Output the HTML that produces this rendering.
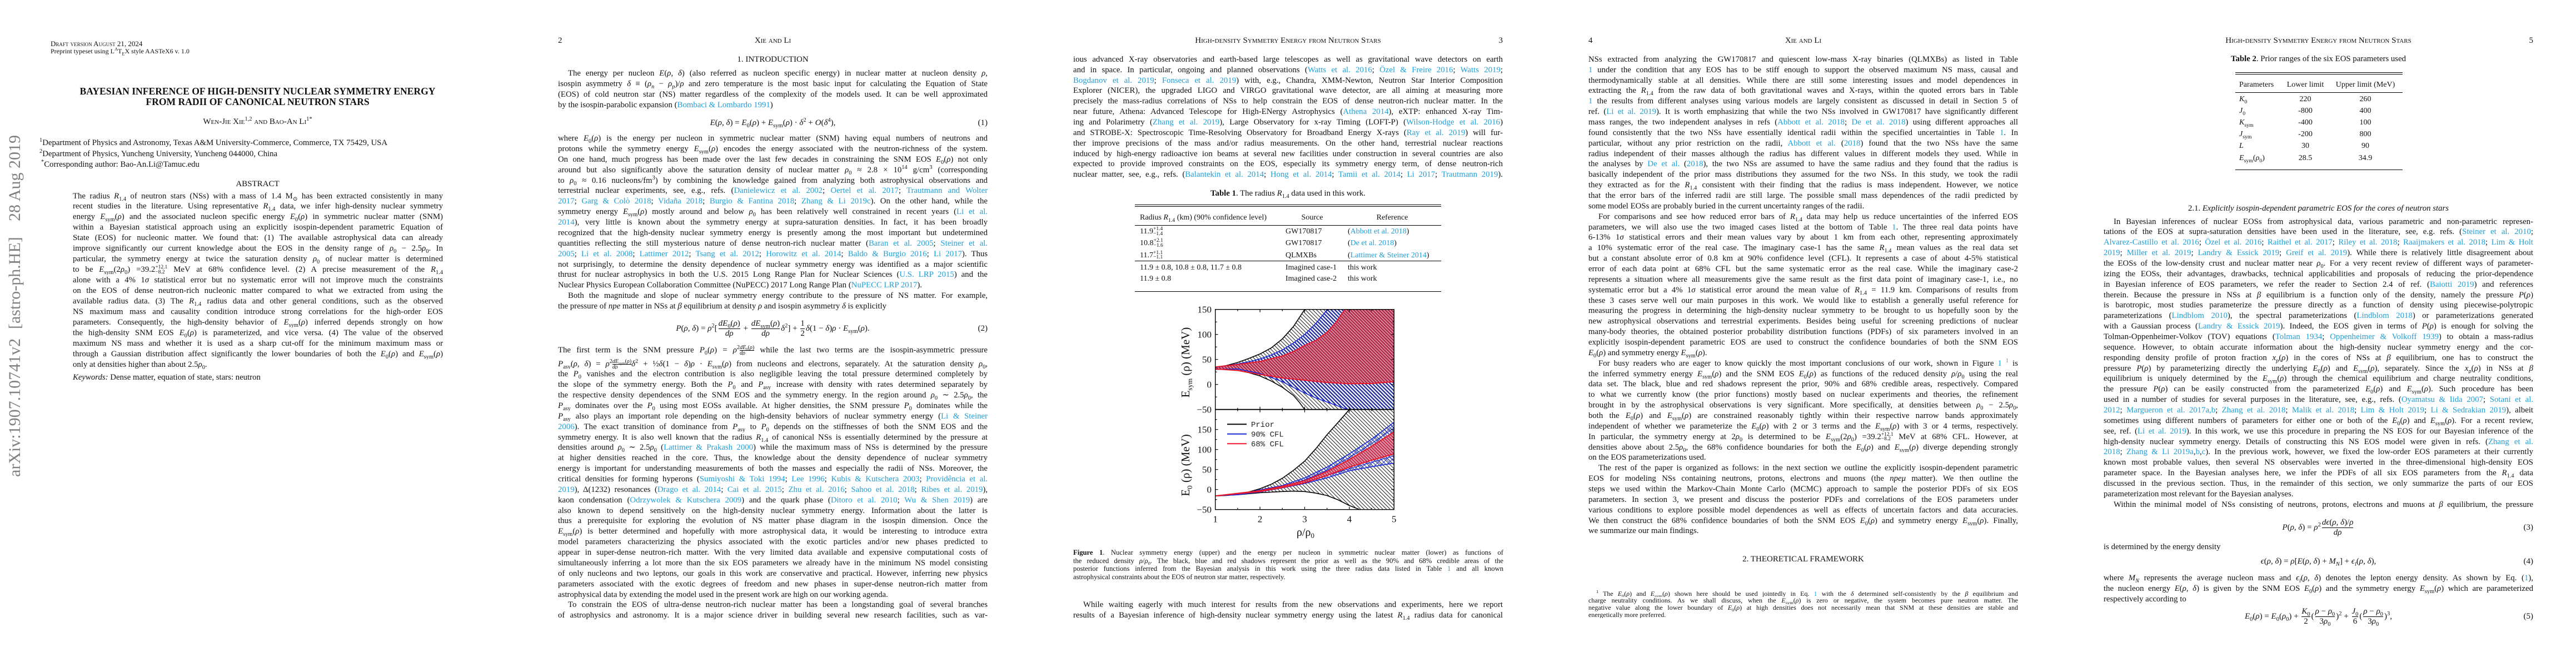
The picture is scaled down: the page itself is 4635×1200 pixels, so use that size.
<!DOCTYPE html>
<html><head><meta charset="utf-8">
<style>
*{margin:0;padding:0;box-sizing:border-box}
body{width:4635px;height:1200px;position:relative;overflow:hidden;background:#fff;font-family:"Liberation Serif","DejaVu Serif",serif;color:#111}
.a{position:absolute;white-space:nowrap}
.c{position:absolute;width:773px;font-size:14.8px}
.c>div{height:18.86px;line-height:18.86px;text-align:justify;text-align-last:justify;overflow:hidden}
.c>div.e{text-align-last:left}
.c>div.p{text-indent:18px}
.ab>div{height:18.94px;line-height:18.94px}
.cp{font-size:12.6px}
.cp>div{height:14.65px;line-height:14.65px}
.fn{font-size:12px}
.fn>div{height:12.7px;line-height:12.7px}
sub,sup{font-size:70%;line-height:0}
.k{color:#1f9fd8}
.sc{font-variant:small-caps}
.hd{position:absolute;font-size:15px;line-height:18px;top:64px;white-space:nowrap}
.eq{position:absolute;width:773px;height:44px;line-height:44px;text-align:center;font-size:15px;white-space:nowrap}
.eq .n{position:absolute;right:0;top:0}
.fr{display:inline-block;vertical-align:middle;text-align:center;line-height:17px;margin:0 2px}
.fr>span{display:block}
.fr>span:first-child{border-bottom:1px solid #000}
.sf{display:inline-block;vertical-align:middle;text-align:center;font-size:10px;line-height:9px}
.sf>span{display:block}
.sf>span:first-child{border-bottom:1px solid #000}
.ss{display:inline-block;vertical-align:middle;font-size:9.5px;line-height:8.5px;text-align:left}
.ss>span{display:block}
.rule{position:absolute;height:0;border-top:1.2px solid #000}
.t{position:absolute;font-size:14px;line-height:18px;white-space:nowrap}
.wm{position:absolute;transform-origin:0 0;transform:rotate(-90deg);font-size:30px;line-height:36px;color:#808080;white-space:nowrap}
</style></head><body>

<!-- arXiv watermark -->
<div class="wm" style="left:9px;top:858px">arXiv:1907.10741v2</div>
<div class="wm" style="left:9px;top:592px">[astro-ph.HE]</div>
<div class="wm" style="left:9px;top:398px">28 Aug 2019</div>

<!-- PAGE 1 -->
<div class="a sc" style="left:91px;top:71px;font-size:13px;line-height:16px">Draft version August 21, 2024</div>
<div class="a" style="left:91px;top:85px;font-size:12px;line-height:15px">Preprint typeset using L<sup>A</sup>T<sub>E</sub>X style AASTeX6 v. 1.0</div>
<div class="a" style="left:77px;width:773px;text-align:center;top:155px;font-size:17.6px;line-height:19px;font-weight:bold">BAYESIAN INFERENCE OF HIGH-DENSITY NUCLEAR SYMMETRY ENERGY<br>FROM RADII OF CANONICAL NEUTRON STARS</div>
<div class="a sc" style="left:77px;width:773px;text-align:center;top:210px;font-size:15px;line-height:19px">Wen-Jie Xie<sup>1,2</sup> and Bao-An Li<sup>1*</sup></div>
<div class="a" style="left:71px;top:248px;font-size:14.8px;line-height:19px"><sup>1</sup>Department of Physics and Astronomy, Texas A&amp;M University-Commerce, Commerce, TX 75429, USA</div>
<div class="a" style="left:71px;top:268px;font-size:14.8px;line-height:19px"><sup>2</sup>Department of Physics, Yuncheng University, Yuncheng 044000, China</div>
<div class="a" style="left:74px;top:287px;font-size:14.8px;line-height:19px"><sup>*</sup>Corresponding author: Bao-An.Li@Tamuc.edu</div>
<div class="a" style="left:77px;width:773px;text-align:center;top:322px;font-size:15px;line-height:19px">ABSTRACT</div>
<div class="c ab" style="left:131px;top:343.5px;width:666px">
<div>The radius <i>R</i><sub>1.4</sub> of neutron stars (NSs) with a mass of 1.4 M<sub>⊙</sub> has been extracted consistently in many</div>
<div>recent studies in the literature. Using representative <i>R</i><sub>1.4</sub> data, we infer high-density nuclear symmetry</div>
<div>energy <i>E</i><sub>sym</sub>(<i>ρ</i>) and the associated nucleon specific energy <i>E</i><sub>0</sub>(<i>ρ</i>) in symmetric nuclear matter (SNM)</div>
<div>within a Bayesian statistical approach using an explicitly isospin-dependent parametric Equation of</div>
<div>State (EOS) for nucleonic matter. We found that: (1) The available astrophysical data can already</div>
<div>improve significantly our current knowledge about the EOS in the density range of <i>ρ</i><sub>0</sub> − 2.5<i>ρ</i><sub>0</sub>. In</div>
<div>particular, the symmetry energy at twice the saturation density <i>ρ</i><sub>0</sub> of nuclear matter is determined</div>
<div>to be <i>E</i><sub>sym</sub>(2<i>ρ</i><sub>0</sub>) =39.2<span class="ss"><span>+12.1</span><span>−8.2</span></span> MeV at 68% confidence level. (2) A precise measurement of the <i>R</i><sub>1.4</sub></div>
<div>alone with a 4% 1<i>σ</i> statistical error but no systematic error will not improve much the constraints</div>
<div>on the EOS of dense neutron-rich nucleonic matter compared to what we extracted from using the</div>
<div>available radius data. (3) The <i>R</i><sub>1.4</sub> radius data and other general conditions, such as the observed</div>
<div>NS maximum mass and causality condition introduce strong correlations for the high-order EOS</div>
<div>parameters. Consequently, the high-density behavior of <i>E</i><sub>sym</sub>(<i>ρ</i>) inferred depends strongly on how</div>
<div>the high-density SNM EOS <i>E</i><sub>0</sub>(<i>ρ</i>) is parameterized, and vice versa. (4) The value of the observed</div>
<div>maximum NS mass and whether it is used as a sharp cut-off for the minimum maximum mass or</div>
<div>through a Gaussian distribution affect significantly the lower boundaries of both the <i>E</i><sub>0</sub>(<i>ρ</i>) and <i>E</i><sub>sym</sub>(<i>ρ</i>)</div>
<div class="e">only at densities higher than about 2.5<i>ρ</i><sub>0</sub>.</div>
</div>
<div class="a" style="left:131px;top:670px;font-size:14.8px;line-height:19px"><i>Keywords:</i> Dense matter, equation of state, stars: neutron</div>

<!-- PAGE 2 -->
<div class="hd" style="left:1004px">2</div>
<div class="hd sc" style="left:1004px;width:773px;text-align:center">Xie and Li</div>
<div class="a" style="left:1004px;width:773px;text-align:center;top:98px;font-size:15px;line-height:19px">1. INTRODUCTION</div>
<div class="c" style="left:1004px;top:123.2px">
<div class="p">The energy per nucleon <i>E</i>(<i>ρ</i>, <i>δ</i>) (also referred as nucleon specific energy) in nuclear matter at nucleon density <i>ρ</i>,</div>
<div>isospin asymmetry <i>δ</i> ≡ (<i>ρ<sub>n</sub></i> − <i>ρ<sub>p</sub></i>)/<i>ρ</i> and zero temperature is the most basic input for calculating the Equation of State</div>
<div>(EOS) of cold neutron star (NS) matter regardless of the complexity of the models used. It can be well approximated</div>
<div class="e">by the isospin-parabolic expansion (<span class="k">Bombaci &amp; Lombardo 1991</span>)</div>
</div>
<div class="eq" style="left:1004px;top:199px"><i>E</i>(<i>ρ</i>, <i>δ</i>) = <i>E</i><sub>0</sub>(<i>ρ</i>) + <i>E</i><sub>sym</sub>(<i>ρ</i>) · <i>δ</i><sup>2</sup> + <i>O</i>(<i>δ</i><sup>4</sup>),<span class="n">(1)</span></div>
<div class="c" style="left:1004px;top:240.2px">
<div>where <i>E</i><sub>0</sub>(<i>ρ</i>) is the energy per nucleon in symmetric nuclear matter (SNM) having equal numbers of neutrons and</div>
<div>protons while the symmetry energy <i>E</i><sub>sym</sub>(<i>ρ</i>) encodes the energy associated with the neutron-richness of the system.</div>
<div>On one hand, much progress has been made over the last few decades in constraining the SNM EOS <i>E</i><sub>0</sub>(<i>ρ</i>) not only</div>
<div>around but also significantly above the saturation density of nuclear matter <i>ρ</i><sub>0</sub> ≈ 2.8 × 10<sup>14</sup> g/cm<sup>3</sup> (corresponding</div>
<div>to <i>ρ</i><sub>0</sub> ≈ 0.16 nucleons/fm<sup>3</sup>) by combining the knowledge gained from analyzing both astrophysical observations and</div>
<div>terrestrial nuclear experiments, see, e.g., refs. (<span class="k">Danielewicz et al. 2002</span>; <span class="k">Oertel et al. 2017</span>; <span class="k">Trautmann and Wolter</span></div>
<div><span class="k">2017</span>; <span class="k">Garg &amp; Colò 2018</span>; <span class="k">Vidaña 2018</span>; <span class="k">Burgio &amp; Fantina 2018</span>; <span class="k">Zhang &amp; Li 2019c</span>). On the other hand, while the</div>
<div>symmetry energy <i>E</i><sub>sym</sub>(<i>ρ</i>) mostly around and below <i>ρ</i><sub>0</sub> has been relatively well constrained in recent years (<span class="k">Li et al.</span></div>
<div><span class="k">2014</span>), very little is known about the symmetry energy at supra-saturation densities. In fact, it has been broadly</div>
<div>recognized that the high-density nuclear symmetry energy is presently among the most important but undetermined</div>
<div>quantities reflecting the still mysterious nature of dense neutron-rich nuclear matter (<span class="k">Baran et al. 2005</span>; <span class="k">Steiner et al.</span></div>
<div><span class="k">2005</span>; <span class="k">Li et al. 2008</span>; <span class="k">Lattimer 2012</span>; <span class="k">Tsang et al. 2012</span>; <span class="k">Horowitz et al. 2014</span>; <span class="k">Baldo &amp; Burgio 2016</span>; <span class="k">Li 2017</span>). Thus</div>
<div>not surprisingly, to determine the density dependence of nuclear symmetry energy was identified as a major scientific</div>
<div>thrust for nuclear astrophysics in both the U.S. 2015 Long Range Plan for Nuclear Sciences (<span class="k">U.S. LRP 2015</span>) and the</div>
<div class="e">Nuclear Physics European Collaboration Committee (NuPECC) 2017 Long Range Plan (<span class="k">NuPECC LRP 2017</span>).</div>
<div class="p">Both the magnitude and slope of nuclear symmetry energy contribute to the pressure of NS matter. For example,</div>
<div class="e">the pressure of <i>npe</i> matter in NSs at <i>β</i> equilibrium at density <i>ρ</i> and isospin asymmetry <i>δ</i> is explicitly</div>
</div>
<div class="eq" style="left:1004px;top:568.8px"><i>P</i>(<i>ρ</i>, <i>δ</i>) = <i>ρ</i><sup>2</sup>[<span class="fr"><span><i>dE</i><sub>0</sub>(<i>ρ</i>)</span><span><i>dρ</i></span></span> + <span class="fr"><span><i>dE</i><sub>sym</sub>(<i>ρ</i>)</span><span><i>dρ</i></span></span><i>δ</i><sup>2</sup>] + <span class="fr"><span>1</span><span>2</span></span><i>δ</i>(1 − <i>δ</i>)<i>ρ</i> · <i>E</i><sub>sym</sub>(<i>ρ</i>).<span class="n">(2)</span></div>
<div class="c" style="left:1004px;top:620.6px">
<div>The first term is the SNM pressure <i>P</i><sub>0</sub>(<i>ρ</i>) = <i>ρ</i><sup>2</sup><span class="sf"><span><i>dE</i><sub>0</sub>(<i>ρ</i>)</span><span><i>dρ</i></span></span> while the last two terms are the isospin-asymmetric pressure</div>
</div>
<div class="c" style="left:1004px;top:645.6px">
<div><i>P</i><sub>asy</sub>(<i>ρ</i>, <i>δ</i>) = <i>ρ</i><sup>2</sup><span class="sf"><span><i>dE</i><sub>sym</sub>(<i>ρ</i>)</span><span><i>dρ</i></span></span><i>δ</i><sup>2</sup> + ½<i>δ</i>(1 − <i>δ</i>)<i>ρ</i> · <i>E</i><sub>sym</sub>(<i>ρ</i>) from nucleons and electrons, separately. At the saturation density <i>ρ</i><sub>0</sub>,</div>
<div>the <i>P</i><sub>0</sub> vanishes and the electron contribution is also negligible leaving the total pressure determined completely by</div>
<div>the slope of the symmetry energy. Both the <i>P</i><sub>0</sub> and <i>P</i><sub>asy</sub> increase with density with rates determined separately by</div>
<div>the respective density dependences of the SNM EOS and the symmetry energy. In the region around <i>ρ</i><sub>0</sub> ∼ 2.5<i>ρ</i><sub>0</sub>, the</div>
<div><i>P</i><sub>asy</sub> dominates over the <i>P</i><sub>0</sub> using most EOSs available. At higher densities, the SNM pressure <i>P</i><sub>0</sub> dominates while the</div>
<div><i>P</i><sub>asy</sub> also plays an important role depending on the high-density behaviors of nuclear symmetry energy (<span class="k">Li &amp; Steiner</span></div>
<div><span class="k">2006</span>). The exact transition of dominance from <i>P</i><sub>asy</sub> to <i>P</i><sub>0</sub> depends on the stiffnesses of both the SNM EOS and the</div>
<div>symmetry energy. It is also well known that the radius <i>R</i><sub>1.4</sub> of canonical NSs is essentially determined by the pressure at</div>
<div>densities around <i>ρ</i><sub>0</sub> ∼ 2.5<i>ρ</i><sub>0</sub> (<span class="k">Lattimer &amp; Prakash 2000</span>) while the maximum mass of NSs is determined by the pressure</div>
<div>at higher densities reached in the core. Thus, the knowledge about the density dependence of nuclear symmetry</div>
<div>energy is important for understanding measurements of both the masses and especially the radii of NSs. Moreover, the</div>
<div>critical densities for forming hyperons (<span class="k">Sumiyoshi &amp; Toki 1994</span>; <span class="k">Lee 1996</span>; <span class="k">Kubis &amp; Kutschera 2003</span>; <span class="k">Providência et al.</span></div>
<div><span class="k">2019</span>), Δ(1232) resonances (<span class="k">Drago et al. 2014</span>; <span class="k">Cai et al. 2015</span>; <span class="k">Zhu et al. 2016</span>; <span class="k">Sahoo et al. 2018</span>; <span class="k">Ribes et al. 2019</span>),</div>
<div>kaon condensation (<span class="k">Odrzywolek &amp; Kutschera 2009</span>) and the quark phase (<span class="k">Ditoro et al. 2010</span>; <span class="k">Wu &amp; Shen 2019</span>) are</div>
<div>also known to depend sensitively on the high-density nuclear symmetry energy. Information about the latter is</div>
<div>thus a prerequisite for exploring the evolution of NS matter phase diagram in the isospin dimension. Once the</div>
<div><i>E</i><sub>sym</sub>(<i>ρ</i>) is better determined and hopefully with more astrophysical data, it would be interesting to introduce extra</div>
<div>model parameters characterizing the physics associated with the exotic particles and/or new phases predicted to</div>
<div>appear in super-dense neutron-rich matter. With the very limited data available and expensive computational costs of</div>
<div>simultaneously inferring a lot more than the six EOS parameters we already have in the minimum NS model consisting</div>
<div>of only nucleons and two leptons, our goals in this work are conservative and practical. However, inferring new physics</div>
<div>parameters associated with the exotic degrees of freedom and new phases in super-dense neutron-rich matter from</div>
<div class="e">astrophysical data by extending the model used in the present work are high on our working agenda.</div>
<div class="p">To constrain the EOS of ultra-dense neutron-rich nuclear matter has been a longstanding goal of several branches</div>
<div>of astrophysics and astronomy. It is a major science driver in building several new research facilities, such as var-</div>
</div>

<!-- PAGE 3 -->
<div class="hd sc" style="left:1931px;width:773px;text-align:center">High-density Symmetry Energy from Neutron Stars</div>
<div class="hd" style="left:1931px;width:773px;text-align:right">3</div>
<div class="c" style="left:1931px;top:97.8px">
<div>ious advanced X-ray observatories and earth-based large telescopes as well as gravitational wave detectors on earth</div>
<div>and in space. In particular, ongoing and planned observations (<span class="k">Watts et al. 2016</span>; <span class="k">Özel &amp; Freire 2016</span>; <span class="k">Watts 2019</span>;</div>
<div><span class="k">Bogdanov et al. 2019</span>; <span class="k">Fonseca et al. 2019</span>) with, e.g., Chandra, XMM-Newton, Neutron Star Interior Composition</div>
<div>Explorer (NICER), the upgraded LIGO and VIRGO gravitational wave detector, are all aiming at measuring more</div>
<div>precisely the mass-radius correlations of NSs to help constrain the EOS of dense neutron-rich nuclear matter. In the</div>
<div>near future, Athena: Advanced Telescope for High-ENergy Astrophysics (<span class="k">Athena 2014</span>), eXTP: enhanced X-ray Tim-</div>
<div>ing and Polarimetry (<span class="k">Zhang et al. 2019</span>), Large Observatory for x-ray Timing (LOFT-P) (<span class="k">Wilson-Hodge et al. 2016</span>)</div>
<div>and STROBE-X: Spectroscopic Time-Resolving Observatory for Broadband Energy X-rays (<span class="k">Ray et al. 2019</span>) will fur-</div>
<div>ther improve precisions of the mass and/or radius measurements. On the other hand, terrestrial nuclear reactions</div>
<div>induced by high-energy radioactive ion beams at several new facilities under construction in several countries are also</div>
<div>expected to provide improved constraints on the EOS, especially its symmetry energy term, of dense neutron-rich</div>
<div>nuclear matter, see, e.g., refs. (<span class="k">Balantekin et al. 2014</span>; <span class="k">Hong et al. 2014</span>; <span class="k">Tamii et al. 2014</span>; <span class="k">Li 2017</span>; <span class="k">Trautmann 2019</span>).</div>
</div>
<div class="a" style="left:1931px;width:773px;text-align:center;top:339px;font-size:14.8px;line-height:19px"><b>Table 1</b>. The radius <i>R</i><sub>1.4</sub> data used in this work.</div>
<div class="rule" style="left:2042px;width:551px;top:367.6px"></div>
<div class="rule" style="left:2042px;width:551px;top:370.8px"></div>
<div class="rule" style="left:2042px;width:551px;top:404.5px"></div>
<div class="rule" style="left:2042px;width:551px;top:468.9px"></div>
<div class="rule" style="left:2042px;width:551px;top:523.9px"></div>
<div class="t" style="left:2051px;top:382.5px">Radius <i>R</i><sub>1.4</sub> (km) (90% confidence level)</div>
<div class="t" style="left:2311px;width:100px;text-align:center;top:382.5px">Source</div>
<div class="t" style="left:2445px;width:120px;text-align:center;top:382.5px">Reference</div>
<div class="t" style="left:2051px;top:408px">11.9<span class="ss"><span>+1.4</span><span>−1.4</span></span></div>
<div class="t" style="left:2313px;top:408px">GW170817</div>
<div class="t" style="left:2425px;top:408px">(<span class="k">Abbott et al. 2018</span>)</div>
<div class="t" style="left:2051px;top:429px">10.8<span class="ss"><span>+2.1</span><span>−1.6</span></span></div>
<div class="t" style="left:2313px;top:429px">GW170817</div>
<div class="t" style="left:2425px;top:429px">(<span class="k">De et al. 2018</span>)</div>
<div class="t" style="left:2051px;top:450.5px">11.7<span class="ss"><span>+1.1</span><span>−1.1</span></span></div>
<div class="t" style="left:2313px;top:450.5px">QLMXBs</div>
<div class="t" style="left:2425px;top:450.5px">(<span class="k">Lattimer &amp; Steiner 2014</span>)</div>
<div class="t" style="left:2051px;top:472.5px">11.9 ± 0.8, 10.8 ± 0.8, 11.7 ± 0.8</div>
<div class="t" style="left:2313px;top:472.5px">Imagined case-1</div>
<div class="t" style="left:2425px;top:472.5px">this work</div>
<div class="t" style="left:2051px;top:493.4px">11.9 ± 0.8</div>
<div class="t" style="left:2313px;top:493.4px">Imagined case-2</div>
<div class="t" style="left:2425px;top:493.4px">this work</div>

<svg class="a" style="left:2090px;top:540px" width="440" height="430" viewBox="2090 540 440 430">
<defs>
<clipPath id="cu"><rect x="2186.7" y="556.7" width="321.6" height="180"/></clipPath>
<clipPath id="cl"><rect x="2186.7" y="736.7" width="321.6" height="180"/></clipPath>
<pattern id="hk" patternUnits="userSpaceOnUse" width="4.7" height="4.7" patternTransform="rotate(45)"><line x1="0" y1="2.35" x2="4.7" y2="2.35" stroke="#000" stroke-width="0.9"/></pattern>
<pattern id="hb" patternUnits="userSpaceOnUse" width="4.6" height="4.6" patternTransform="rotate(45)"><rect width="4.6" height="4.6" fill="#fff"/><line x1="0" y1="2.3" x2="4.6" y2="2.3" stroke="#1c2896" stroke-width="2.3"/></pattern>
<pattern id="hr" patternUnits="userSpaceOnUse" width="4" height="4" patternTransform="rotate(45)"><rect width="4" height="4" fill="#b2304f"/><line x1="0" y1="2" x2="4" y2="2" stroke="#f2c6d0" stroke-width="1"/></pattern>
<pattern id="xb" patternUnits="userSpaceOnUse" width="7" height="7" patternTransform="rotate(45)"><line x1="0" y1="3.5" x2="7" y2="3.5" stroke="#2233cc" stroke-width="0.9"/><line x1="3.5" y1="0" x2="3.5" y2="7" stroke="#2233cc" stroke-width="0.9"/></pattern>
<pattern id="xr" patternUnits="userSpaceOnUse" width="4" height="4" patternTransform="rotate(45)"><rect width="4" height="4" fill="#c63a5a"/><line x1="0" y1="2" x2="4" y2="2" stroke="#f6d2da" stroke-width="1.1"/></pattern>
</defs>
<g clip-path="url(#cu)">
<path fill="url(#hk)" d="M2186.7 661.1L2206.8 657.5L2226.9 652.1L2247 644.9L2267.1 636.8L2287.2 626L2307.3 609.8L2327.4 587.3L2347.5 556.7L2508.3 556.7L2508.3 736.7L2347.5 736.7L2337.5 723.2L2327.4 711.5L2307.3 696.7L2287.2 685.4L2267.1 676.4L2247 670.5L2226.9 666.5L2206.8 664.7L2186.7 663.8Z"/>
<path fill="url(#hb)" d="M2186.7 661.1L2226.9 654.8L2247 650.75L2267.1 645.8L2287.2 638.6L2307.3 629.6L2327.4 617L2347.5 601.7L2367.6 581.9L2388.5 556.7L2508.3 556.7L2508.3 736.7L2424.7 736.7L2387.7 723.2L2367.6 716L2347.5 707L2327.4 697.1L2307.3 686.75L2287.2 679.1L2267.1 671.9L2226.9 663.8L2186.7 664.7Z"/>
<path fill="url(#hr)" d="M2186.7 660.2L2226.9 655.7L2267.1 650.3L2307.3 640.4L2327.4 632.3L2347.5 621.5L2367.6 612.5L2387.7 598.1L2403.8 580.1L2419.9 556.7L2508.3 556.7L2508.3 686.75L2468.1 689.9L2427.9 690.35L2387.7 688.1L2347.5 684.05L2307.3 680L2267.1 673.7L2226.9 666.5L2186.7 663.8Z"/>
<g fill="none" stroke-width="1.6" stroke-linejoin="round">
<polyline stroke="#000" points="2186.7,661.1 2206.8,657.5 2226.9,652.1 2247,644.9 2267.1,636.8 2287.2,626 2307.3,609.8 2327.4,587.3 2347.5,556.7"/>
<polyline stroke="#000" points="2186.7,663.8 2206.8,664.7 2226.9,666.5 2247,670.5 2267.1,676.4 2287.2,685.4 2307.3,696.7 2327.4,711.5 2337.5,723.2 2347.5,736.7"/>
<polyline stroke="#1a2ad8" points="2186.7,661.1 2226.9,654.8 2247,650.75 2267.1,645.8 2287.2,638.6 2307.3,629.6 2327.4,617 2347.5,601.7 2367.6,581.9 2388.5,556.7"/>
<polyline stroke="#1a2ad8" points="2186.7,664.7 2226.9,663.8 2267.1,671.9 2287.2,679.1 2307.3,686.75 2327.4,697.1 2347.5,707 2367.6,716 2387.7,723.2 2424.7,736.7"/>
<polyline stroke="#e8182a" stroke-width="2" points="2186.7,660.2 2226.9,655.7 2267.1,650.3 2307.3,640.4 2327.4,632.3 2347.5,621.5 2367.6,612.5 2387.7,598.1 2403.8,580.1 2419.9,556.7"/>
<polyline stroke="#e8182a" stroke-width="2" points="2186.7,663.8 2226.9,666.5 2267.1,673.7 2307.3,680 2347.5,684.05 2387.7,688.1 2427.9,690.35 2468.1,689.9 2508.3,686.75"/>
</g>
</g>
<g clip-path="url(#cl)">
<path fill="url(#hk)" d="M2186.7 892.2L2206.8 891.5L2226.9 889.3L2247 885L2267.1 879.3L2287.2 871.3L2307.3 860.5L2327.4 846.1L2347.5 829.6L2367.6 807.2L2387.7 782.1L2407.8 759.7L2427.9 736.7L2508.3 736.7L2508.3 916.7L2446.4 916.7L2427.9 909.5L2407.8 899.4L2387.7 891.5L2367.6 887.2L2347.5 884.3L2327.4 883.6L2307.3 884.3L2267.1 886.5L2226.9 890.1L2186.7 892.2Z"/>
<path fill="url(#xb)" d="M2186.7 892.2L2226.9 889.3L2267.1 881.4L2307.3 873.5L2347.5 859.8L2387.7 840.4L2427.9 816.6L2468.1 790L2508.3 759.7L2508.3 833.2L2468.1 839.7L2427.9 846.9L2387.7 859.8L2347.5 869.9L2307.3 877.8L2267.1 885L2226.9 890.1Z"/>
<path fill="url(#xr)" d="M2186.7 892.2L2267.1 882.9L2307.3 874.9L2347.5 864.9L2387.7 848.3L2427.9 826.7L2468.1 802.9L2508.3 777L2508.3 816.6L2468.1 828.1L2427.9 840.4L2387.7 855.5L2347.5 868.5L2307.3 877.1L2267.1 884.3Z"/>
<g fill="none" stroke-width="1.6" stroke-linejoin="round">
<polyline stroke="#000" points="2186.7,892.2 2206.8,891.5 2226.9,889.3 2247,885 2267.1,879.3 2287.2,871.3 2307.3,860.5 2327.4,846.1 2347.5,829.6 2367.6,807.2 2387.7,782.1 2407.8,759.7 2427.9,736.7"/>
<polyline stroke="#000" points="2186.7,892.2 2226.9,890.1 2267.1,886.5 2307.3,884.3 2327.4,883.6 2347.5,884.3 2367.6,887.2 2387.7,891.5 2407.8,899.4 2427.9,909.5 2446.4,916.7"/>
<polyline stroke="#1a2ad8" points="2186.7,892.2 2226.9,889.3 2267.1,881.4 2307.3,873.5 2347.5,859.8 2387.7,840.4 2427.9,816.6 2468.1,790 2508.3,759.7"/>
<polyline stroke="#1a2ad8" points="2186.7,892.2 2226.9,890.1 2267.1,885 2307.3,877.8 2347.5,869.9 2387.7,859.8 2427.9,846.9 2468.1,839.7 2508.3,833.2"/>
<polyline stroke="#1a2ad8" stroke-width="1.2" points="2307.3,874.9 2347.5,863.4 2387.7,846.1 2427.9,823.1 2468.1,797.9 2508.3,769.8"/>
<polyline stroke="#1a2ad8" stroke-width="1.2" points="2347.5,867.7 2387.7,855.5 2427.9,843.3 2468.1,831.7 2508.3,820.2"/>
<polyline stroke="#e8182a" stroke-width="2" points="2186.7,892.2 2267.1,882.9 2307.3,874.9 2347.5,864.9 2387.7,848.3 2427.9,826.7 2468.1,802.9 2508.3,777"/>
<polyline stroke="#e8182a" stroke-width="2" points="2186.7,892.2 2267.1,884.3 2307.3,877.1 2347.5,868.5 2387.7,855.5 2427.9,840.4 2468.1,828.1 2508.3,816.6"/>
</g>
</g>
<rect x="2186.7" y="556.7" width="321.6" height="360" fill="none" stroke="#000" stroke-width="1.4"/>
<line x1="2186.7" y1="736.7" x2="2508.3" y2="736.7" stroke="#000" stroke-width="1.8"/>
<path fill="none" stroke="#000" stroke-width="1.2" d="M2267.1 916.7v-5M2347.5 916.7v-5M2427.9 916.7v-5M2226.9 916.7v-3M2307.3 916.7v-3M2387.7 916.7v-3M2468.1 916.7v-3M2267.1 556.7v5M2347.5 556.7v5M2427.9 556.7v5M2226.9 556.7v3M2307.3 556.7v3M2387.7 556.7v3M2468.1 556.7v3M2267.1 731.7v10M2347.5 731.7v10M2427.9 731.7v10M2226.9 733.7v6M2307.3 733.7v6M2387.7 733.7v6M2468.1 733.7v6M2186.7 601.7h5M2186.7 646.7h5M2186.7 691.7h5M2186.7 579.2h3M2186.7 624.2h3M2186.7 669.2h3M2186.7 714.2h3M2186.7 772.7h5M2186.7 808.7h5M2186.7 844.7h5M2186.7 880.7h5M2186.7 754.7h3M2186.7 790.7h3M2186.7 826.7h3M2186.7 862.7h3M2186.7 898.7h3M2508.3 601.7h-5M2508.3 646.7h-5M2508.3 691.7h-5M2508.3 579.2h-3M2508.3 624.2h-3M2508.3 669.2h-3M2508.3 714.2h-3M2508.3 772.7h-5M2508.3 808.7h-5M2508.3 844.7h-5M2508.3 880.7h-5M2508.3 754.7h-3M2508.3 790.7h-3M2508.3 826.7h-3M2508.3 862.7h-3M2508.3 898.7h-3"/>
<g font-family="Liberation Serif, serif" font-size="17" text-anchor="end" fill="#111">
<text x="2180" y="562.5">150</text><text x="2180" y="607.5">100</text><text x="2180" y="652.5">50</text><text x="2180" y="697.5">0</text><text x="2180" y="742.5">−50</text>
<text x="2180" y="778.5">150</text><text x="2180" y="814.5">100</text><text x="2180" y="850.5">50</text><text x="2180" y="886.5">0</text><text x="2180" y="922.5">−50</text>
</g>
<g font-family="Liberation Serif, serif" font-size="17" text-anchor="middle" fill="#111">
<text x="2186.7" y="939.5">1</text><text x="2267.1" y="939.5">2</text><text x="2347.5" y="939.5">3</text><text x="2427.9" y="939.5">4</text><text x="2508.3" y="939.5">5</text>
<text x="2349" y="964" font-size="20">ρ/ρ<tspan font-size="13" dy="4">0</tspan></text>
</g>
<g font-family="Liberation Serif, serif" font-size="21" text-anchor="middle" fill="#111">
<text transform="translate(2140,652) rotate(-90)">E<tspan font-size="13" dy="5">sym</tspan><tspan dy="-5"> (ρ) (MeV)</tspan></text>
<text transform="translate(2140,837) rotate(-90)">E<tspan font-size="13" dy="5">0</tspan><tspan dy="-5"> (ρ) (MeV)</tspan></text>
</g>
<g stroke-width="2">
<line x1="2208" y1="763.3" x2="2243" y2="763.3" stroke="#000"/>
<line x1="2208" y1="780.7" x2="2243" y2="780.7" stroke="#1a2ad8"/>
<line x1="2208" y1="798.3" x2="2243" y2="798.3" stroke="#e8182a"/>
</g>
<g font-family="Liberation Mono, monospace" font-size="14" fill="#222">
<text x="2251" y="768">Prior</text><text x="2251" y="785.5">90% CFL</text><text x="2251" y="803">68% CFL</text>
</g>
</svg>

<div class="c cp" style="left:1931px;top:987px;width:774px">
<div><b>Figure 1</b>. Nuclear symmetry energy (upper) and the energy per nucleon in symmetric nuclear matter (lower) as functions of</div>
<div>the reduced density <i>ρ</i>/<i>ρ</i><sub>0</sub>. The black, blue and red shadows represent the prior as well as the 90% and 68% credible areas of the</div>
<div>posterior functions inferred from the Bayesian analysis in this work using the three radius data listed in Table <span class="k">1</span> and all known</div>
<div class="e">astrophysical constraints about the EOS of neutron star matter, respectively.</div>
</div>
<div class="c" style="left:1931px;top:1079.2px">
<div class="p">While waiting eagerly with much interest for results from the new observations and experiments, here we report</div>
<div>results of a Bayesian inference of high-density nuclear symmetry energy using the latest <i>R</i><sub>1.4</sub> radius data for canonical</div>
</div>

<!-- PAGE 4 -->
<div class="hd" style="left:2858px">4</div>
<div class="hd sc" style="left:2858px;width:773px;text-align:center">Xie and Li</div>
<div class="c" style="left:2858px;top:97.8px">
<div>NSs extracted from analyzing the GW170817 and quiescent low-mass X-ray binaries (QLMXBs) as listed in Table</div>
<div><span class="k">1</span> under the condition that any EOS has to be stiff enough to support the observed maximum NS mass, causal and</div>
<div>thermodynamically stable at all densities. While there are still some interesting issues and model dependences in</div>
<div>extracting the <i>R</i><sub>1.4</sub> from the raw data of both gravitational waves and X-rays, within the quoted errors bars in Table</div>
<div><span class="k">1</span> the results from different analyses using various models are largely consistent as discussed in detail in Section 5 of</div>
<div>ref. (<span class="k">Li et al. 2019</span>). It is worth emphasizing that while the two NSs involved in GW170817 have significantly different</div>
<div>mass ranges, the two independent analyses in refs (<span class="k">Abbott et al. 2018</span>; <span class="k">De et al. 2018</span>) using different approaches all</div>
<div>found consistently that the two NSs have essentially identical radii within the specified uncertainties in Table <span class="k">1</span>. In</div>
<div>particular, without any prior restriction on the radii, <span class="k">Abbott et al.</span> (<span class="k">2018</span>) found that the two NSs have the same</div>
<div>radius independent of their masses although the radius has different values in different models they used. While in</div>
<div>the analyses by <span class="k">De et al.</span> (<span class="k">2018</span>), the two NSs are assumed to have the same radius and they found that the radius is</div>
<div>basically independent of the prior mass distributions they assumed for the two NSs. In this study, we took the radii</div>
<div>they extracted as for the <i>R</i><sub>1.4</sub> consistent with their finding that the radius is mass independent. However, we notice</div>
<div>that the error bars of the inferred radii are still large. The possible small mass dependences of the radii predicted by</div>
<div class="e">some model EOSs are probably buried in the current uncertainty ranges of the radii.</div>
<div class="p">For comparisons and see how reduced error bars of <i>R</i><sub>1.4</sub> data may help us reduce uncertainties of the inferred EOS</div>
<div>parameters, we will also use the two imaged cases listed at the bottom of Table <span class="k">1</span>. The three real data points have</div>
<div>6-13% 1<i>σ</i> statistical errors and their mean values vary by about 1 km from each other, representing approximately</div>
<div>a 10% systematic error of the real case. The imaginary case-1 has the same <i>R</i><sub>1.4</sub> mean values as the real data set</div>
<div>but a constant absolute error of 0.8 km at 90% confidence level (CFL). It represents a case of about 4-5% statistical</div>
<div>error of each data point at 68% CFL but the same systematic error as the real case. While the imaginary case-2</div>
<div>represents a situation where all measurements give the same result as the first data point of imaginary case-1, i.e., no</div>
<div>systematic error but a 4% 1<i>σ</i> statistical error around the mean value of <i>R</i><sub>1.4</sub> = 11.9 km. Comparisons of results from</div>
<div>these 3 cases serve well our main purposes in this work. We would like to establish a generally useful reference for</div>
<div>measuring the progress in determining the high-density nuclear symmetry to be brought to us hopefully soon by the</div>
<div>new astrophysical observations and terrestrial experiments. Besides being useful for screening predictions of nuclear</div>
<div>many-body theories, the obtained posterior probability distribution functions (PDFs) of six parameters involved in an</div>
<div>explicitly isospin-dependent parametric EOS are used to construct the confidence boundaries of both the SNM EOS</div>
<div class="e"><i>E</i><sub>0</sub>(<i>ρ</i>) and symmetry energy <i>E</i><sub>sym</sub>(<i>ρ</i>).</div>
<div class="p">For busy readers who are eager to know quickly the most important conclusions of our work, shown in Figure <span class="k">1</span> <sup class="k">1</sup> is</div>
<div>the inferred symmetry energy <i>E</i><sub>sym</sub>(<i>ρ</i>) and the SNM EOS <i>E</i><sub>0</sub>(<i>ρ</i>) as functions of the reduced density <i>ρ</i>/<i>ρ</i><sub>0</sub> using the real</div>
<div>data set. The black, blue and red shadows represent the prior, 90% and 68% credible areas, respectively. Compared</div>
<div>to what we currently know (the prior functions) mostly based on nuclear experiments and theories, the refinement</div>
<div>brought in by the astrophysical observations is very significant. More specifically, at densities between <i>ρ</i><sub>0</sub> − 2.5<i>ρ</i><sub>0</sub>,</div>
<div>both the <i>E</i><sub>0</sub>(<i>ρ</i>) and <i>E</i><sub>sym</sub>(<i>ρ</i>) are constrained reasonably tightly within their respective narrow bands approximately</div>
<div>independent of whether we parameterize the <i>E</i><sub>0</sub>(<i>ρ</i>) with 2 or 3 terms and the <i>E</i><sub>sym</sub>(<i>ρ</i>) with 3 or 4 terms, respectively.</div>
<div>In particular, the symmetry energy at 2<i>ρ</i><sub>0</sub> is determined to be <i>E</i><sub>sym</sub>(2<i>ρ</i><sub>0</sub>) =39.2<span class="ss"><span>+12.1</span><span>−8.2</span></span> MeV at 68% CFL. However, at</div>
<div>densities above about 2.5<i>ρ</i><sub>0</sub>, the 68% confidence boundaries for both the <i>E</i><sub>0</sub>(<i>ρ</i>) and <i>E</i><sub>sym</sub>(<i>ρ</i>) diverge depending strongly</div>
<div class="e">on the EOS parameterizations used.</div>
<div class="p">The rest of the paper is organized as follows: in the next section we outline the explicitly isospin-dependent parametric</div>
<div>EOS for modeling NSs containing neutrons, protons, electrons and muons (the <i>npeμ</i> matter). We then outline the</div>
<div>steps we used within the Markov-Chain Monte Carlo (MCMC) approach to sample the posterior PDFs of six EOS</div>
<div>parameters. In section 3, we present and discuss the posterior PDFs and correlations of the EOS parameters under</div>
<div>various conditions to explore possible model dependences as well as effects of uncertain factors and data accuracies.</div>
<div>We then construct the 68% confidence boundaries of both the SNM EOS <i>E</i><sub>0</sub>(<i>ρ</i>) and symmetry energy <i>E</i><sub>sym</sub>(<i>ρ</i>). Finally,</div>
<div class="e">we summarize our main findings.</div>
</div>
<div class="a" style="left:2858px;width:773px;text-align:center;top:997px;font-size:15px;line-height:19px">2. THEORETICAL FRAMEWORK</div>
<div class="c fn" style="left:2858px;top:1061.5px">
<div style="text-indent:14px"><sup>1</sup> The <i>E</i><sub>0</sub>(<i>ρ</i>) and <i>E</i><sub>sym</sub>(<i>ρ</i>) shown here should be used jointedly in Eq. <span class="k">1</span> with the <i>δ</i> determined self-consistently by the <i>β</i> equilibrium and</div>
<div>charge neutrality conditions. As we shall discuss, when the <i>E</i><sub>sym</sub>(<i>ρ</i>) is zero or negative, the system becomes pure neutron matter. The</div>
<div>negative value along the lower boundary of <i>E</i><sub>0</sub>(<i>ρ</i>) at high densities does not necessarily mean that SNM at these densities are stable and</div>
<div class="e">energetically more preferred.</div>
</div>

<!-- PAGE 5 -->
<div class="hd sc" style="left:3785px;width:773px;text-align:center">High-density Symmetry Energy from Neutron Stars</div>
<div class="hd" style="left:3785px;width:773px;text-align:right">5</div>
<div class="a" style="left:3785px;width:773px;text-align:center;top:96.5px;font-size:14.8px;line-height:19px"><b>Table 2</b>. Prior ranges of the six EOS parameters used</div>
<div class="rule" style="left:4022px;width:301px;top:130px"></div>
<div class="rule" style="left:4022px;width:301px;top:133px"></div>
<div class="rule" style="left:4022px;width:301px;top:165.8px"></div>
<div class="rule" style="left:4022px;width:301px;top:305.2px"></div>
<div class="t" style="left:4029px;top:144.3px">Parameters</div>
<div class="t" style="left:4098px;width:100px;text-align:center;top:144.3px">Lower limit</div>
<div class="t" style="left:4196px;width:120px;text-align:center;top:144.3px">Upper limit (MeV)</div>
<div class="t" style="left:4029px;top:170.3px"><i>K</i><sub>0</sub></div><div class="t" style="left:4098px;width:100px;text-align:center;top:170.3px">220</div><div class="t" style="left:4196px;width:120px;text-align:center;top:170.3px">260</div>
<div class="t" style="left:4029px;top:191px"><i>J</i><sub>0</sub></div><div class="t" style="left:4098px;width:100px;text-align:center;top:191px">-800</div><div class="t" style="left:4196px;width:120px;text-align:center;top:191px">400</div>
<div class="t" style="left:4029px;top:212px"><i>K</i><sub>sym</sub></div><div class="t" style="left:4098px;width:100px;text-align:center;top:212px">-400</div><div class="t" style="left:4196px;width:120px;text-align:center;top:212px">100</div>
<div class="t" style="left:4029px;top:233.3px"><i>J</i><sub>sym</sub></div><div class="t" style="left:4098px;width:100px;text-align:center;top:233.3px">-200</div><div class="t" style="left:4196px;width:120px;text-align:center;top:233.3px">800</div>
<div class="t" style="left:4029px;top:254.3px"><i>L</i></div><div class="t" style="left:4098px;width:100px;text-align:center;top:254.3px">30</div><div class="t" style="left:4196px;width:120px;text-align:center;top:254.3px">90</div>
<div class="t" style="left:4029px;top:276px"><i>E</i><sub>sym</sub>(<i>ρ</i><sub>0</sub>)</div><div class="t" style="left:4098px;width:100px;text-align:center;top:276px">28.5</div><div class="t" style="left:4196px;width:120px;text-align:center;top:276px">34.9</div>
<div class="a" style="left:3785px;width:773px;text-align:center;top:366px;font-size:14.8px;line-height:19px">2.1. <i>Explicitly isospin-dependent parametric EOS for the cores of neutron stars</i></div>
<div class="c" style="left:3785px;top:389.5px">
<div class="p">In Bayesian inferences of nuclear EOSs from astrophysical data, various parametric and non-parametric represen-</div>
<div>tations of the EOS at supra-saturation densities have been used in the literature, see, e.g. refs. (<span class="k">Steiner et al. 2010</span>;</div>
<div><span class="k">Alvarez-Castillo et al. 2016</span>; <span class="k">Özel et al. 2016</span>; <span class="k">Raithel et al. 2017</span>; <span class="k">Riley et al. 2018</span>; <span class="k">Raaijmakers et al. 2018</span>; <span class="k">Lim &amp; Holt</span></div>
<div><span class="k">2019</span>; <span class="k">Miller et al. 2019</span>; <span class="k">Landry &amp; Essick 2019</span>; <span class="k">Greif et al. 2019</span>). While there is relatively little disagreement about</div>
<div>the EOSs of the low-density crust and nuclear matter near <i>ρ</i><sub>0</sub>. For a very recent review of different ways of parameter-</div>
<div>izing the EOSs, their advantages, drawbacks, technical applicabilities and proposals of reducing the prior-dependence</div>
<div>in Bayesian inference of EOS parameters, we refer the reader to Section 2.4 of ref. (<span class="k">Baiotti 2019</span>) and references</div>
<div>therein. Because the pressure in NSs at <i>β</i> equilibrium is a function only of the density, namely the pressure <i>P</i>(<i>ρ</i>)</div>
<div>is barotropic, most studies parameterize the pressure directly as a function of density using piecewise-polytropic</div>
<div>parameterizations (<span class="k">Lindblom 2010</span>), the spectral parameterizations (<span class="k">Lindblom 2018</span>) or parameterizations generated</div>
<div>with a Gaussian process (<span class="k">Landry &amp; Essick 2019</span>). Indeed, the EOS given in terms of <i>P</i>(<i>ρ</i>) is enough for solving the</div>
<div>Tolman-Oppenheimer-Volkov (TOV) equations (<span class="k">Tolman 1934</span>; <span class="k">Oppenheimer &amp; Volkoff 1939</span>) to obtain a mass-radius</div>
<div>sequence. However, to obtain accurate information about the high-density nuclear symmetry energy and the cor-</div>
<div>responding density profile of proton fraction <i>x<sub>p</sub></i>(<i>ρ</i>) in the cores of NSs at <i>β</i> equilibrium, one has to construct the</div>
<div>pressure <i>P</i>(<i>ρ</i>) by parameterizing directly the underlying <i>E</i><sub>0</sub>(<i>ρ</i>) and <i>E</i><sub>sym</sub>(<i>ρ</i>), separately. Since the <i>x<sub>p</sub></i>(<i>ρ</i>) in NSs at <i>β</i></div>
<div>equilibrium is uniquely determined by the <i>E</i><sub>sym</sub>(<i>ρ</i>) through the chemical equilibrium and charge neutrality conditions,</div>
<div>the pressure <i>P</i>(<i>ρ</i>) can be easily constructed from the parameterized <i>E</i><sub>0</sub>(<i>ρ</i>) and <i>E</i><sub>sym</sub>(<i>ρ</i>). Such procedure has been</div>
<div>used in a number of studies for several purposes in the literature, see, e.g., refs. (<span class="k">Oyamatsu &amp; Iida 2007</span>; <span class="k">Sotani et al.</span></div>
<div><span class="k">2012</span>; <span class="k">Margueron et al. 2017a,b</span>; <span class="k">Zhang et al. 2018</span>; <span class="k">Malik et al. 2018</span>; <span class="k">Lim &amp; Holt 2019</span>; <span class="k">Li &amp; Sedrakian 2019</span>), albeit</div>
<div>sometimes using different numbers of parameters for either one or both of the <i>E</i><sub>0</sub>(<i>ρ</i>) and <i>E</i><sub>sym</sub>(<i>ρ</i>). For a recent review,</div>
<div>see, ref. (<span class="k">Li et al. 2019</span>). In this work, we use this procedure in preparing the NS EOS for our Bayesian inference of the</div>
<div>high-density nuclear symmetry energy. Details of constructing this NS EOS model were given in refs. (<span class="k">Zhang et al.</span></div>
<div><span class="k">2018</span>; <span class="k">Zhang &amp; Li 2019a</span>,<span class="k">b</span>,<span class="k">c</span>). In the previous work, however, we fixed the low-order EOS parameters at their currently</div>
<div>known most probable values, then several NS observables were inverted in the three-dimensional high-density EOS</div>
<div>parameter space. In the Bayesian analyses here, we infer the PDFs of all six EOS parameters from the <i>R</i><sub>1.4</sub> data</div>
<div>discussed in the previous section. Thus, in the remainder of this section, we only summarize the parts of our EOS</div>
<div class="e">parameterization most relevant for the Bayesian analyses.</div>
<div class="p">Within the minimal model of NSs consisting of neutrons, protons, electrons and muons at <i>β</i> equilibrium, the pressure</div>
</div>
<div class="eq" style="left:3785px;top:926.5px"><i>P</i>(<i>ρ</i>, <i>δ</i>) = <i>ρ</i><sup>2</sup><span class="fr"><span><i>dϵ</i>(<i>ρ</i>, <i>δ</i>)/<i>ρ</i></span><span><i>dρ</i></span></span><span class="n">(3)</span></div>
<div class="c" style="left:3785px;top:975.2px"><div class="e">is determined by the energy density</div></div>
<div class="eq" style="left:3785px;top:987.7px"><i>ϵ</i>(<i>ρ</i>, <i>δ</i>) = <i>ρ</i>[<i>E</i>(<i>ρ</i>, <i>δ</i>) + <i>M<sub>N</sub></i>] + <i>ϵ<sub>l</sub></i>(<i>ρ</i>, <i>δ</i>),<span class="n">(4)</span></div>
<div class="c" style="left:3785px;top:1030.8px">
<div>where <i>M<sub>N</sub></i> represents the average nucleon mass and <i>ϵ<sub>l</sub></i>(<i>ρ</i>, <i>δ</i>) denotes the lepton energy density. As shown by Eq. (<span class="k">1</span>),</div>
<div>the nucleon energy <i>E</i>(<i>ρ</i>, <i>δ</i>) is given by the SNM EOS <i>E</i><sub>0</sub>(<i>ρ</i>) and the symmetry energy <i>E</i><sub>sym</sub>(<i>ρ</i>) which are parameterized</div>
<div class="e">respectively according to</div>
</div>
<div class="eq" style="left:3785px;top:1087.2px"><i>E</i><sub>0</sub>(<i>ρ</i>) = <i>E</i><sub>0</sub>(<i>ρ</i><sub>0</sub>) + <span class="fr"><span><i>K</i><sub>0</sub></span><span>2</span></span>(<span class="fr"><span><i>ρ</i> − <i>ρ</i><sub>0</sub></span><span>3<i>ρ</i><sub>0</sub></span></span>)<sup>2</sup> + <span class="fr"><span><i>J</i><sub>0</sub></span><span>6</span></span>(<span class="fr"><span><i>ρ</i> − <i>ρ</i><sub>0</sub></span><span>3<i>ρ</i><sub>0</sub></span></span>)<sup>3</sup>,<span class="n">(5)</span></div>

</body></html>
